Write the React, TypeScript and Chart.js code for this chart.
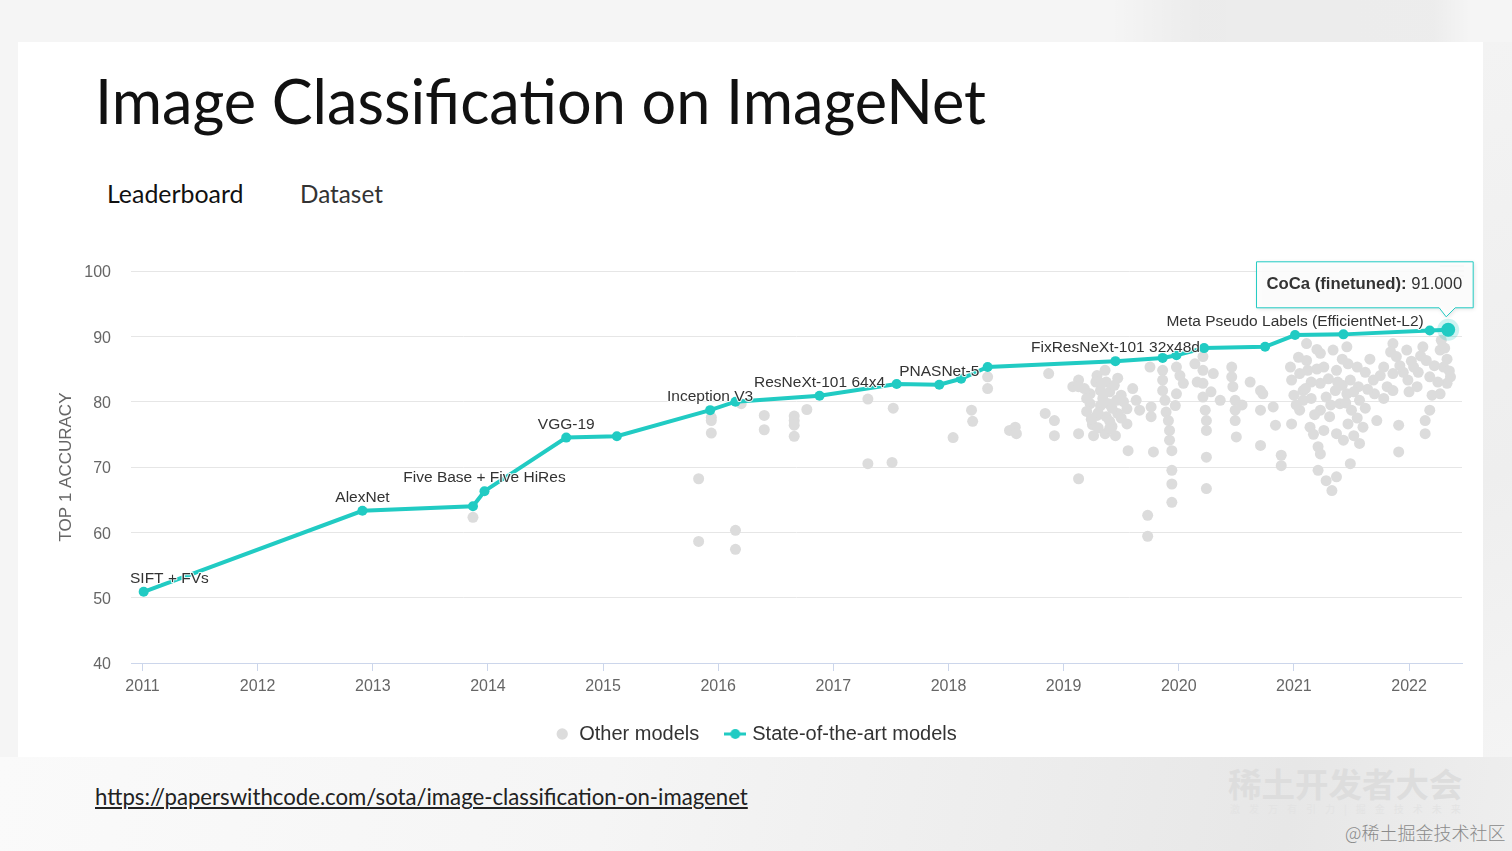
import React, { useEffect, useRef } from "react";
import { Chart, registerables } from "chart.js";

Chart.register(...registerables);

const TEAL = "#21cbc3";
const GREY = "#dcdcdc";
const CHART_FONT = "'Liberation Sans', Arial, sans-serif";

const yearTicks = [2011, 2012, 2013, 2014, 2015, 2016, 2017, 2018, 2019, 2020, 2021, 2022];
const accuracyTicks = [40, 50, 60, 70, 80, 90, 100];

const sotaYears = [
  2011.01, 2012.91, 2013.87, 2013.97, 2014.68, 2015.12, 2015.93, 2016.15, 2016.88, 2017.55,
  2017.92, 2018.11, 2018.34, 2019.45, 2019.86, 2019.98, 2020.22, 2020.75, 2021.01, 2021.43,
  2022.18, 2022.34,
];
const sotaAccuracy = [
  50.9, 63.3, 64.0, 66.3, 74.5, 74.7, 78.7, 80.0, 80.9, 82.7,
  82.6, 83.5, 85.3, 86.2, 86.7, 87.1, 88.2, 88.4, 90.2, 90.3,
  90.9, 91.0,
];
const sotaLabels = [
  "SIFT + FVs", "AlexNet", "", "Five Base + Five HiRes", "VGG-19", "", "Inception V3", "", "ResNeXt-101 64x4", "",
  "PNASNet-5", "", "", "FixResNeXt-101 32x48d", "", "", "", "", "Meta Pseudo Labels (EfficientNet-L2)", "",
  "", "",
];
const hoverModel = "CoCa (finetuned)";

const otherYears = [
  2013.87, 2015.83, 2015.83, 2015.94, 2015.94, 2015.94, 2016.15, 2016.15, 2016.2, 2016.4,
  2016.4, 2016.66, 2016.66, 2016.66, 2016.66, 2016.77, 2017.3, 2017.3, 2017.52, 2017.51,
  2018.04, 2018.2, 2018.21, 2018.34, 2018.34, 2018.53, 2018.58, 2018.59, 2018.84, 2018.87,
  2018.92, 2018.92, 2019.08, 2019.13, 2019.13, 2019.13, 2019.13, 2019.29, 2019.36, 2019.37,
  2019.23, 2019.32, 2019.4, 2019.23, 2019.32, 2019.39, 2019.46, 2019.29, 2019.37, 2019.47,
  2019.26, 2019.36, 2019.45, 2019.55, 2019.6, 2019.63, 2019.55, 2019.66, 2019.56, 2019.76,
  2019.76, 2019.75, 2019.78, 2019.86, 2019.86, 2019.86, 2019.88, 2019.89, 2019.91, 2019.92,
  2019.92, 2019.94, 2019.94, 2019.94, 2019.94, 2019.73, 2019.73, 2019.98, 2020.01, 2020.04,
  2019.98, 2019.97, 2020.14, 2020.21, 2020.21, 2020.21, 2020.21, 2020.23, 2020.24, 2020.24,
  2020.24, 2020.24, 2020.3, 2020.36, 2020.46, 2020.46, 2020.47, 2020.49, 2020.49, 2020.49,
  2020.5, 2020.71, 2020.73, 2020.71, 2020.71, 2020.82, 2020.84, 2020.89, 2020.89, 2020.97,
  2020.98, 2020.98, 2021.05, 2021.08, 2021.08, 2021.05, 2021.11, 2021.11, 2021.14, 2021.21,
  2021.23, 2021.21, 2021.28, 2021.37, 2021.33, 2021.23, 2021.26, 2021.23, 2021.28, 2021.23,
  2021.31, 2021.26, 2021.34, 2021.37, 2021.36, 2021.4, 2021.37, 2021.43, 2021.46, 2021.47,
  2021.49, 2021.46, 2021.5, 2021.47, 2021.49, 2021.55, 2021.56, 2021.57, 2021.57, 2021.6,
  2021.69, 2021.7, 2021.72, 2021.78, 2021.81, 2021.86, 2021.89, 2021.86, 2021.86, 2021.91,
  2021.91, 2021.98, 2022.04, 2021.99, 2022.07, 2022.12, 2022.15, 2022.18, 2022.14, 2022.14,
  2022.18, 2022.27, 2022.3, 2022.33, 2022.27, 2022.36, 2022.28,
  2019.2, 2019.2, 2019.25, 2019.3, 2019.42, 2019.44, 2019.5, 2019.28, 2019.34, 2019.42,
  2019.3, 2019.4, 2019.5,
  2021.0, 2021.02, 2021.15, 2021.15, 2021.18, 2021.1, 2021.2, 2021.3, 2021.42, 2021.42,
  2021.32, 2021.45, 2021.52, 2021.62, 2021.62, 2021.66, 2021.75, 2021.78, 2021.95, 2022.0,
  2022.08, 2022.22, 2022.25, 2022.33, 2022.35, 2022.1, 2021.92, 2021.2, 2021.17, 2021.52,
  2021.55,
  2019.18, 2019.33, 2019.47, 2019.4, 2019.24, 2019.52, 2020.16, 2020.28, 2020.55, 2020.62,
  2021.04, 2021.12, 2021.38, 2021.64, 2021.84, 2022.02, 2022.2, 2022.31,
];
const otherAccuracy = [
  62.3, 68.2, 58.6, 77.6, 77.1, 75.2, 60.3, 57.4, 79.7, 77.9,
  75.7, 77.8, 77.1, 76.4, 74.7, 78.8, 80.4, 70.5, 79.0, 70.7,
  74.5, 78.7, 77.0, 83.8, 82.0, 75.6, 76.1, 75.1, 78.2, 84.3,
  77.1, 74.8, 82.3, 83.3, 82.3, 75.1, 68.2, 84.0, 84.8, 83.0,
  81.2, 81.7, 81.5, 79.7, 79.4, 79.7, 80.2, 77.9, 77.7, 78.2,
  74.8, 75.1, 74.8, 76.6, 82.0, 80.2, 78.9, 78.7, 72.5, 79.2,
  77.7, 85.3, 72.3, 84.8, 83.3, 81.7, 80.2, 78.4, 77.1, 75.6,
  74.1, 72.5, 69.5, 67.4, 64.6, 62.6, 59.4, 85.3, 84.0, 82.8,
  81.2, 79.4, 85.8, 86.9, 84.8, 82.8, 80.7, 78.7, 77.1, 75.6,
  71.5, 66.7, 84.3, 80.2, 85.3, 83.8, 82.3, 80.2, 78.7, 77.1,
  74.6, 81.7, 81.2, 78.7, 73.3, 79.2, 76.4, 71.8, 70.2, 85.3,
  83.3, 76.6, 84.3, 81.7, 80.2, 78.7, 88.9, 86.3, 76.1, 73.1,
  72.0, 69.5, 67.9, 68.5, 66.4, 87.4, 85.3, 82.8, 80.7, 78.7,
  77.7, 75.6, 87.9, 84.8, 81.7, 79.7, 75.1, 74.1, 88.4, 85.8,
  83.3, 81.2, 78.7, 76.6, 70.5, 85.3, 82.3, 80.2, 73.6, 76.1,
  83.3, 81.2, 77.1, 85.3, 82.3, 88.9, 86.9, 84.3, 81.7, 76.4,
  72.3, 87.9, 85.3, 83.3, 82.3, 88.4, 86.3, 83.8, 77.1, 75.1,
  78.7, 87.9, 85.3, 82.8, 81.2, 83.8, 89.4,
  80.5, 78.5, 76.5, 76.0, 76.2, 82.5, 81.0, 83.0, 80.5, 79.0,
  78.3, 77.0, 77.5,
  81.0, 79.5, 83.0, 80.5, 78.0, 82.0, 85.0, 83.5, 86.5, 82.5,
  79.5, 79.8, 81.5, 84.5, 79.0, 86.5, 84.0, 80.5, 84.5, 81.5,
  84.5, 85.5, 83.0, 86.5, 84.7, 87.0, 85.5, 88.0, 75.0, 74.8,
  77.5,
  82.0, 82.8, 83.6, 75.9, 77.3, 80.0, 83.0, 81.5, 79.5, 83.0,
  86.8, 84.8, 83.0, 81.9, 87.6, 86.2, 81.0, 88.2,
];

function makeSotaLegendImage(): HTMLCanvasElement {
  const img = document.createElement("canvas");
  img.width = 22;
  img.height = 12;
  const c = img.getContext("2d")!;
  c.strokeStyle = TEAL;
  c.lineWidth = 3;
  c.beginPath();
  c.moveTo(0, 6);
  c.lineTo(22, 6);
  c.stroke();
  c.fillStyle = TEAL;
  c.beginPath();
  c.arc(11, 6, 5, 0, Math.PI * 2);
  c.fill();
  return img;
}

const sotaPlugin = {
  id: "sotaDecorations",
  afterDatasetsDraw(chart: any) {
    const meta = chart.getDatasetMeta(0);
    const ctx: CanvasRenderingContext2D = chart.ctx;
    const area = chart.chartArea;
    const last = meta.data[meta.data.length - 1];
    ctx.save();
    ctx.fillStyle = "rgba(33,203,195,0.22)";
    ctx.beginPath();
    ctx.arc(last.x, last.y, 11, 0, Math.PI * 2);
    ctx.fill();
    ctx.fillStyle = TEAL;
    ctx.beginPath();
    ctx.arc(last.x, last.y, 7, 0, Math.PI * 2);
    ctx.fill();

    ctx.font = `15.5px ${CHART_FONT}`;
    ctx.textBaseline = "middle";
    ctx.textAlign = "left";
    ctx.lineJoin = "round";
    sotaLabels.forEach((text, i) => {
      if (!text) return;
      const pt = meta.data[i];
      const w = ctx.measureText(text).width;
      let x = pt.x - w / 2;
      if (x < area.left - 1) x = area.left - 1;
      if (x + w > area.right) x = area.right - w;
      const y = pt.y - 13;
      ctx.strokeStyle = "rgba(255,255,255,0.85)";
      ctx.lineWidth = 2;
      ctx.strokeText(text, x, y);
      ctx.fillStyle = "#333";
      ctx.fillText(text, x, y);
    });
    ctx.restore();
  },
  afterDraw(chart: any) {
    const meta = chart.getDatasetMeta(0);
    const ctx: CanvasRenderingContext2D = chart.ctx;
    const area = chart.chartArea;
    const n = sotaAccuracy.length;
    const pt = meta.data[n - 1];
    ctx.save();
    ctx.strokeStyle = "#dedede";
    ctx.lineWidth = 2;
    [-5, 0, 5].forEach((dy) => {
      ctx.beginPath();
      ctx.moveTo(area.right - 22, area.top + dy);
      ctx.lineTo(area.right + 2, area.top + dy);
      ctx.stroke();
    });
    const boldText = hoverModel + ":";
    const valueText = " " + sotaAccuracy[n - 1].toFixed(3);
    const fs = 16.7;
    ctx.font = `bold ${fs}px ${CHART_FONT}`;
    const bw = ctx.measureText(boldText).width;
    ctx.font = `${fs}px ${CHART_FONT}`;
    const vw = ctx.measureText(valueText).width;
    const right = pt.x + 25;
    const left = right - (bw + vw + 21);
    const bottom = pt.y - 22;
    const top = bottom - 46;
    ctx.beginPath();
    ctx.moveTo(left, top);
    ctx.lineTo(right, top);
    ctx.lineTo(right, bottom);
    ctx.lineTo(pt.x + 7, bottom);
    ctx.lineTo(pt.x - 2, pt.y - 13);
    ctx.lineTo(pt.x - 9, bottom);
    ctx.lineTo(left, bottom);
    ctx.closePath();
    ctx.shadowColor = "rgba(0,0,0,0.15)";
    ctx.shadowBlur = 4;
    ctx.shadowOffsetX = 1;
    ctx.shadowOffsetY = 1;
    ctx.fillStyle = "rgba(255,255,255,0.88)";
    ctx.fill();
    ctx.shadowColor = "transparent";
    ctx.strokeStyle = TEAL;
    ctx.lineWidth = 1;
    ctx.stroke();
    ctx.fillStyle = "#333";
    ctx.textBaseline = "middle";
    ctx.textAlign = "left";
    const ty = (top + bottom) / 2;
    ctx.font = `bold ${fs}px ${CHART_FONT}`;
    ctx.fillText(boldText, left + 10, ty);
    ctx.font = `${fs}px ${CHART_FONT}`;
    ctx.fillText(valueText, left + 10 + bw, ty);
    ctx.restore();
  },
};

function ImageNetChart() {
  const ref = useRef<HTMLCanvasElement | null>(null);
  useEffect(() => {
    if (!ref.current) return;
    Chart.defaults.font.family = CHART_FONT;
    const legendImg = makeSotaLegendImage();
    const chart = new Chart(ref.current, {
      type: "scatter",
      data: {
        datasets: [
          {
            label: "State-of-the-art models",
            data: sotaYears.map((x, i) => ({ x, y: sotaAccuracy[i] })),
            showLine: true,
            borderColor: TEAL,
            backgroundColor: TEAL,
            borderWidth: 4,
            pointRadius: 5,
            pointBorderWidth: 0,
            pointHoverRadius: 5,
            tension: 0,
          } as any,
          {
            label: "Other models",
            data: otherYears.map((x, i) => ({ x, y: otherAccuracy[i] })),
            showLine: false,
            backgroundColor: GREY,
            borderColor: GREY,
            pointRadius: 5.5,
            pointBorderWidth: 0,
          } as any,
        ],
      },
      options: {
        animation: false,
        responsive: false,
        events: [],
        layout: { padding: { left: 50, right: 50, top: 271, bottom: 97 } },
        plugins: {
          tooltip: { enabled: false },
          legend: {
            position: "bottom",
            labels: {
              usePointStyle: true,
              boxWidth: 14,
              boxHeight: 8,
              padding: 29,
              color: "#333",
              font: { size: 20 },
              generateLabels: () => [
                {
                  text: "Other models",
                  pointStyle: "circle",
                  fillStyle: GREY,
                  strokeStyle: GREY,
                  lineWidth: 0,
                  fontColor: "#333",
                  hidden: false,
                  datasetIndex: 1,
                } as any,
                {
                  text: "State-of-the-art models",
                  pointStyle: legendImg,
                  fillStyle: TEAL,
                  strokeStyle: TEAL,
                  lineWidth: 0,
                  fontColor: "#333",
                  hidden: false,
                  datasetIndex: 0,
                } as any,
              ],
            },
          },
        },
        scales: {
          x: {
            type: "linear",
            min: 2010.9,
            max: 2022.46,
            afterBuildTicks: (s: any) => {
              s.ticks = yearTicks.map((v) => ({ value: v }));
            },
            afterFit: (s: any) => {
              s.height = 32;
            },
            grid: { drawOnChartArea: false, drawTicks: true, tickLength: 8, color: "#ccd6eb" },
            border: { color: "#ccd6eb", width: 1 },
            ticks: {
              color: "#666",
              font: { size: 16 },
              padding: 6,
              maxRotation: 0,
              autoSkip: false,
              callback: (v: any) => String(v),
            },
          },
          y: {
            type: "linear",
            min: accuracyTicks[0],
            max: accuracyTicks[accuracyTicks.length - 1],
            afterBuildTicks: (s: any) => {
              s.ticks = accuracyTicks.map((v) => ({ value: v }));
            },
            afterFit: (s: any) => {
              s.width = 81;
            },
            grid: { color: "#e6e6e6", drawTicks: false },
            border: { display: false },
            ticks: { color: "#666", font: { size: 16 }, padding: 20, labelOffset: 2 },
            title: {
              display: true,
              text: "TOP 1 ACCURACY",
              color: "#666",
              font: { size: 17 },
              padding: { top: 6, bottom: 0 },
            },
          },
        },
      },
      plugins: [sotaPlugin],
    });
    return () => chart.destroy();
  }, []);
  return (
    <canvas
      ref={ref}
      width={1512}
      height={851}
      style={{ position: "absolute", left: 0, top: 0, width: 1512, height: 851, pointerEvents: "none" }}
    />
  );
}

export default function App() {
  return (
    <div
      style={{
        position: "absolute",
        left: 0,
        top: 0,
        width: 1512,
        height: 851,
        overflow: "hidden",
        background: "#f5f5f5",
      }}
    >
      <div
        style={{
          position: "absolute",
          left: 1110,
          top: 0,
          width: 360,
          height: 42,
          background: "linear-gradient(90deg, rgba(0,0,0,0) 0%, rgba(0,0,0,0.04) 25%, rgba(0,0,0,0.035) 90%, rgba(0,0,0,0) 100%)",
        }}
      />
      <div
        style={{
          position: "absolute",
          left: 0,
          top: 757,
          width: 1512,
          height: 94,
          background: "linear-gradient(100deg, #fafafa 0%, #f5f5f5 40%, #ececec 70%, #e7e7e7 85%, #eeeeee 100%)",
        }}
      />
      <div
        style={{
          position: "absolute",
          left: 1483,
          top: 42,
          width: 29,
          height: 715,
          background: "linear-gradient(160deg, #f3f3f3 0%, #eeeeee 60%, #f4f4f4 100%)",
        }}
      />
      <div style={{ position: "absolute", left: 18, top: 42, width: 1465, height: 715, background: "#ffffff" }} />
      <div
        style={{
          position: "absolute",
          left: 95,
          top: 70,
          fontFamily: "Lato, sans-serif",
          fontSize: 61.2,
          lineHeight: "61px",
          color: "#111",
          whiteSpace: "nowrap",
        }}
      >
        Image Classification on ImageNet
      </div>
      <div
        style={{
          position: "absolute",
          left: 107,
          top: 181,
          fontFamily: "Lato, sans-serif",
          fontSize: 24.9,
          lineHeight: "25px",
          color: "#111",
          whiteSpace: "nowrap",
        }}
      >
        Leaderboard
      </div>
      <div
        style={{
          position: "absolute",
          left: 300,
          top: 181,
          fontFamily: "Lato, sans-serif",
          fontSize: 24.3,
          lineHeight: "25px",
          color: "#333",
          whiteSpace: "nowrap",
        }}
      >
        Dataset
      </div>
      <div
        style={{
          position: "absolute",
          left: 95,
          top: 786,
          fontFamily: "Lato, sans-serif",
          fontSize: 22.2,
          lineHeight: "22px",
          color: "#222",
          textDecoration: "underline",
          whiteSpace: "nowrap",
        }}
      >
        https://paperswithcode.com/sota/image-classification-on-imagenet
      </div>
      <div
        style={{
          position: "absolute",
          left: 1228,
          top: 766,
          fontFamily: "'Noto Sans CJK SC', sans-serif",
          fontWeight: 700,
          fontSize: 33.5,
          lineHeight: "33.5px",
          color: "#dddddd",
          whiteSpace: "nowrap",
        }}
      >
        稀土开发者大会
      </div>
      <div
        style={{
          position: "absolute",
          left: 1230,
          top: 804,
          fontFamily: "'Noto Sans CJK SC', sans-serif",
          fontSize: 10,
          lineHeight: "10px",
          letterSpacing: 9,
          color: "#e3e3e3",
          whiteSpace: "nowrap",
        }}
      >
        激发万有引力|掘金技术未来
      </div>
      <div
        style={{
          position: "absolute",
          left: 1345,
          top: 823,
          fontFamily: "'Noto Sans CJK SC', sans-serif",
          fontWeight: 300,
          fontSize: 18,
          lineHeight: "18px",
          color: "#8a8a8a",
          whiteSpace: "nowrap",
        }}
      >
        @稀土掘金技术社区
      </div>
      <ImageNetChart />
    </div>
  );
}
